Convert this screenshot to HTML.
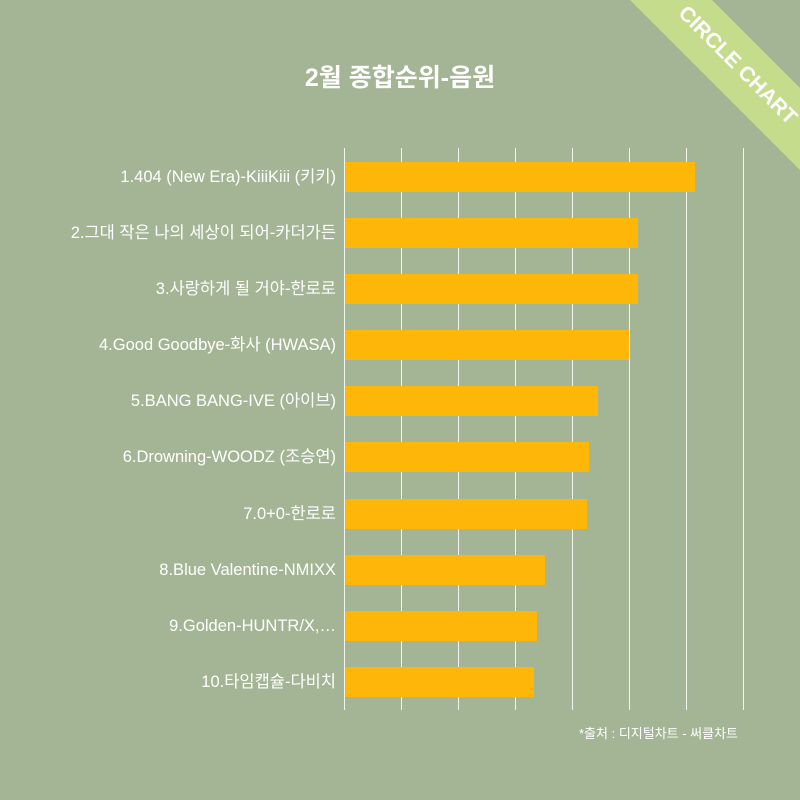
<!DOCTYPE html>
<html><head><meta charset="utf-8"><style>
html,body{margin:0;padding:0}
body{width:800px;height:800px;background:#a3b594;position:relative;overflow:hidden;font-family:"Liberation Sans","Noto Sans CJK KR",sans-serif;color:#fff}
.t{position:absolute;left:0;width:800px;top:58px;text-align:center;font-size:25px;font-weight:bold}
.l{position:absolute;right:464px;font-size:16.5px;white-space:nowrap;line-height:20px}
.g{position:absolute;top:148px;height:562px;width:1px;background:#f4f4ee}
.b{position:absolute;left:345px;height:30px;background:#feb608}
.f{position:absolute;left:579px;top:723px;font-size:13px}
</style></head><body>
<svg style="position:absolute;left:0;top:0" width="800" height="800">
<polygon points="630,0 712,0 800,88 800,170" fill="#c6dc8d"/>
<text x="738" y="72" transform="rotate(45 738 65)" text-anchor="middle" font-family="Liberation Sans, sans-serif" font-size="21" font-weight="bold" fill="#fff">CIRCLE CHART</text>
</svg>
<div class="t">2월 종합순위-음원</div>
<div class="g" style="left:344px"></div><div class="g" style="left:401px"></div><div class="g" style="left:458px"></div><div class="g" style="left:515px"></div><div class="g" style="left:572px"></div><div class="g" style="left:629px"></div><div class="g" style="left:686px"></div><div class="g" style="left:743px"></div>
<div class="b" style="top:162px;width:350px"></div>
<div class="b" style="top:218px;width:293px"></div>
<div class="b" style="top:274px;width:293px"></div>
<div class="b" style="top:330px;width:284px"></div>
<div class="b" style="top:386px;width:253px"></div>
<div class="b" style="top:442px;width:244px"></div>
<div class="b" style="top:499px;width:242px"></div>
<div class="b" style="top:555px;width:200px"></div>
<div class="b" style="top:611px;width:192px"></div>
<div class="b" style="top:667px;width:189px"></div>
<div class="l" style="top:167px">1.404 (New Era)-KiiiKiii (키키)</div>
<div class="l" style="top:223px">2.그대 작은 나의 세상이 되어-카더가든</div>
<div class="l" style="top:279px">3.사랑하게 될 거야-한로로</div>
<div class="l" style="top:335px">4.Good Goodbye-화사 (HWASA)</div>
<div class="l" style="top:391px">5.BANG BANG-IVE (아이브)</div>
<div class="l" style="top:447px">6.Drowning-WOODZ (조승연)</div>
<div class="l" style="top:504px">7.0+0-한로로</div>
<div class="l" style="top:560px">8.Blue Valentine-NMIXX</div>
<div class="l" style="top:616px">9.Golden-HUNTR/X,…</div>
<div class="l" style="top:672px">10.타임캡슐-다비치</div>
<div class="f">*출처 : 디지털차트 - 써클차트</div>
</body></html>
